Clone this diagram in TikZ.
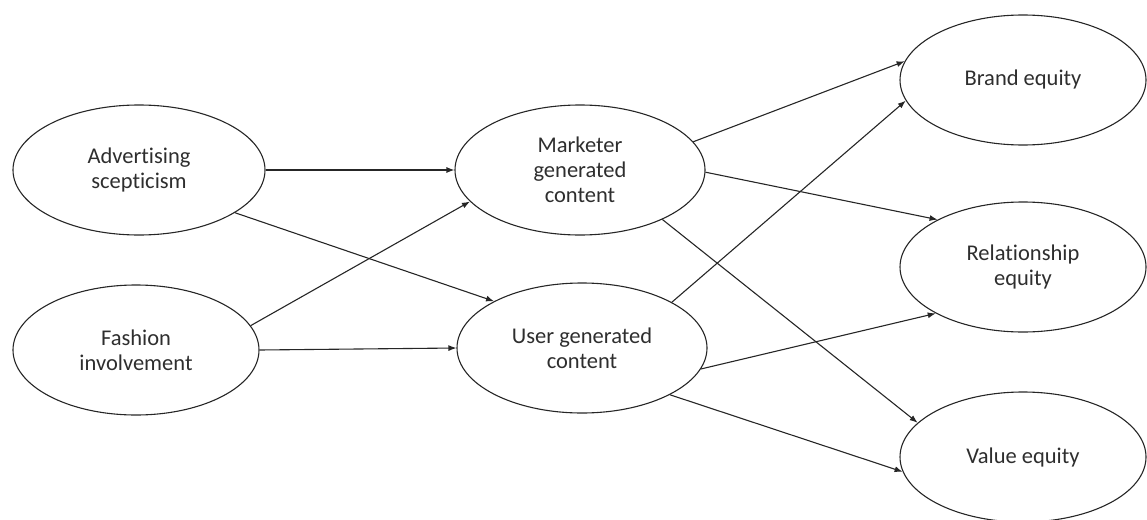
\documentclass[tikz,border=0pt]{standalone}
\usepackage{fontspec}
\setmainfont{Carlito}[Ligatures={NoCommon}]
\usetikzlibrary{arrows.meta,shapes.geometric}
\begin{document}
\begin{tikzpicture}[x=1pt,y=-1pt,
  construct/.style={draw=black!85, line width=1.1pt, ellipse, inner sep=0pt,
    minimum width=250pt, minimum height=130pt, align=center,
    text=black!82, font=\fontsize{22.5}{25}\selectfont},
  path/.style={draw=black!85, line width=1.1pt, -{Latex[length=8pt,width=6pt]}}]
\useasboundingbox (0,0) rectangle (1147,519);
\clip (0,0) rectangle (1147,519);

% constructs
\node[construct, minimum width=252pt] (adv) at (139,170) {Advertising\\scepticism};
\node[construct, minimum width=246pt] (fash) at (136,350) {Fashion\\involvement};
\node[construct] (mgc) at (580,170) {Marketer\\generated\\content};
\node[construct] (ugc) at (582,348) {User generated\\content};
\node[construct, minimum width=246pt] (brand) at (1023,80) {Brand equity};
\node[construct, minimum width=246pt] (rel) at (1023,267) {Relationship\\equity};
\node[construct, minimum width=246pt] (val) at (1023,457) {Value equity};

% antecedents -> content
\draw[path] (adv.0) -- (mgc.180);
\draw[path] (adv.-24.6) -- (ugc.152.9);
\draw[path] (fash.12.8) -- (mgc.196);
\draw[path] (fash.0) -- (ugc.180);

% content -> equity
\draw[path] (mgc.14.6) -- (brand.171.7);
\draw[path] (mgc.-1) -- (rel.151.9);
\draw[path] (mgc.-31.4) -- (val.162.4);
\draw[path] (ugc.27) -- (brand.190.3);
\draw[path] (ugc.-10.4) -- (rel.208.4);
\draw[path] (ugc.-28.1) -- (val.187);
\end{tikzpicture}
\end{document}
